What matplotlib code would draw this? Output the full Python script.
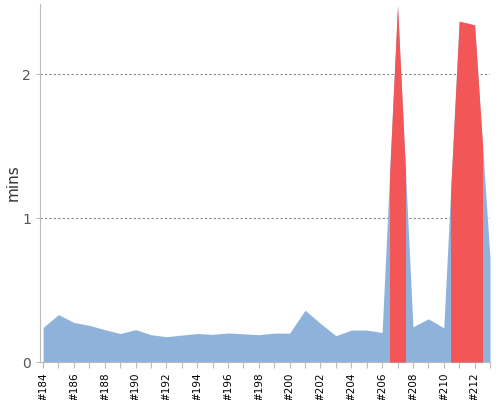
import numpy as np
import matplotlib
matplotlib.use("Agg")
import matplotlib.pyplot as plt
from matplotlib.patches import Rectangle

builds = list(range(184, 214))
mins = [0.24, 0.33, 0.275, 0.255, 0.225, 0.198, 0.225, 0.19, 0.176, 0.187,
        0.198, 0.192, 0.202, 0.196, 0.19, 0.201, 0.201, 0.36, 0.268, 0.183,
        0.222, 0.222, 0.205, 2.48, 0.245, 0.3, 0.238, 2.37, 2.345, 0.72]
slow = [207, 211, 212]

blue = "#8fb2db"
red = "#f25656"

fig = plt.figure(figsize=(5, 4), dpi=100)
ax = fig.add_axes([0.08, 0.095, 0.90, 0.895])

ax.fill_between(builds, 0, mins, color=blue, lw=0, zorder=2)
for b in slow:
    f = ax.fill_between(builds, 0, mins, color=red, lw=0, zorder=3)
    clip = Rectangle((b - 0.5, 0), 1, 10, transform=ax.transData)
    f.set_clip_path(clip)

ax.set_xlim(183.8, 213)
ax.set_ylim(0, 2.49)

ax.set_yticks([0, 1, 2])
ax.set_yticklabels(["0", "1", "2"])
ax.set_xticks(builds)
ax.set_xticklabels(["#%d" % b if b % 2 == 0 else "" for b in builds],
                   rotation=90, fontsize=7.5)
ax.tick_params(axis="y", labelsize=10, labelcolor="#555555", color="#bbbbbb", length=3)
ax.tick_params(axis="x", color="#bbbbbb", length=4)

for y in [1, 2]:
    ax.axhline(y, color="#888888", lw=0.8, ls=(0, (2, 2)), zorder=1)

for s in ["top", "right"]:
    ax.spines[s].set_visible(False)
for s in ["left", "bottom"]:
    ax.spines[s].set_color("#bbbbbb")

ax.set_ylabel("mins", fontsize=11, color="#333333")
ax.yaxis.set_label_coords(-0.044, 0.5)

fig.savefig("out.png", dpi=100)
